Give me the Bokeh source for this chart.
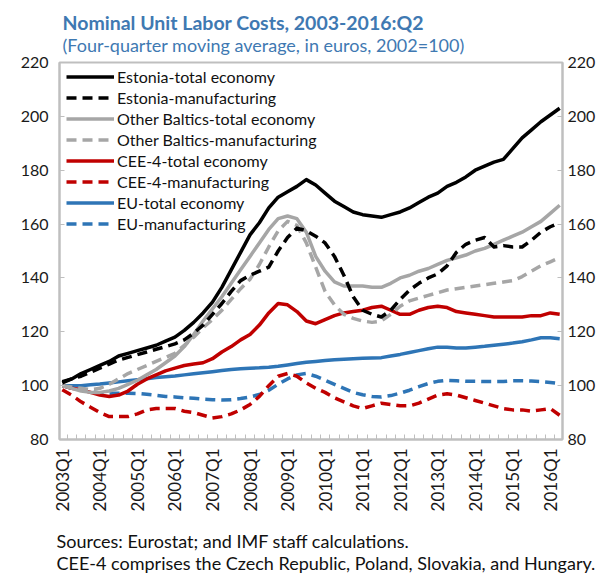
import math
from bokeh.plotting import figure
from bokeh.models import FixedTicker, LinearAxis, Range1d, Title, Legend, LegendItem
from bokeh.embed import file_html
from bokeh.resources import INLINE

# ---------------- data ----------------
years = ["2003", "2004", "2005", "2006", "2007", "2008", "2009",
         "2010", "2011", "2012", "2013", "2014", "2015", "2016"]
quarters = [y + "Q" + str(q) for y in years for q in (1, 2, 3, 4)][:54]   # 2003Q1 .. 2016Q2
tick_positions = [0, 4, 8, 12, 16, 20, 24, 28, 32, 36, 40, 44, 48, 52]
y_ticks = [80, 100, 120, 140, 160, 180, 200, 220]

estonia_total = [101, 102.5, 104.5, 106, 107.5, 109, 111, 112, 113, 114, 115, 116.5, 118, 120.5,
                 123.5, 127, 131, 136.5, 143, 149.5, 156, 160.5, 166, 170, 172, 174, 176.5, 174.5,
                 171.5, 168.5, 166.5, 164.5, 163.5, 163, 162.5, 163.5, 164.5, 166, 168, 170, 171.5,
                 174, 175.5, 177.5, 180, 181.5, 183, 184, 188, 192, 195, 198, 200.5, 203]
estonia_manuf = [101.5, 102.5, 103.5, 105, 106.5, 108, 109.5, 110.5, 111.5, 112.5, 113.5, 114.5,
                 115.5, 117, 119.5, 122.5, 126.5, 130.5, 135, 139, 141, 142.5, 144, 150, 155, 158.5,
                 157.5, 155.5, 153, 148, 141, 133, 128, 126.5, 125.5, 128, 132, 135.5, 138, 140,
                 141.5, 144.5, 149.5, 152.5, 154, 155, 151.5, 152, 151.5, 151.5, 154, 157, 159, 160.5]
baltics_total = [100, 99, 98, 97.5, 97.5, 98, 99, 100.5, 102, 104, 106, 108.5, 111, 114.5, 119,
                 124, 128.5, 133, 138, 143, 148, 153, 158, 162, 163, 162, 157, 148, 142.5, 138.5,
                 137, 137, 137, 136.5, 136.5, 138, 140, 141, 142.5, 143.5, 145, 146.5, 147.5, 148.5,
                 150, 151, 152.5, 154, 155.5, 157, 159, 161, 164, 167]
baltics_manuf = [100, 99.5, 99, 98.5, 99, 100.5, 102.5, 104.5, 106, 107.5, 109, 110.5, 112, 115,
                 118, 121.5, 124.5, 128, 132, 136, 139.5, 145, 151.5, 157.5, 161, 159.5, 153, 144,
                 135, 130, 126.5, 125, 124, 123.5, 124, 126.5, 129.5, 131.5, 132.5, 133.5, 134.5,
                 135.5, 136, 136.5, 137, 137.5, 138, 138.5, 139, 140.5, 142.5, 144.5, 146, 147.5]
cee4_total = [100, 99, 98.5, 97.5, 96.5, 96, 96.5, 98, 100.5, 102.5, 104, 105.5, 106.5, 107.5, 108,
              108.5, 110, 112.5, 114.5, 117, 119, 122.5, 127, 130.5, 130, 127.5, 124, 123, 124.5,
              126, 127, 127.5, 128, 129, 129.5, 128, 126.5, 126.5, 128, 129, 129.5, 129, 127.5, 127,
              126.5, 126, 125.5, 125.5, 125.5, 125.5, 126, 126, 127, 126.5]
cee4_manuf = [98.5, 96.5, 94, 92, 90, 88.5, 88.5, 88.5, 89.5, 91, 91.5, 91.5, 91.5, 90.5, 90, 89,
              88, 88.5, 89.5, 91, 93, 96, 100, 103.5, 104.5, 103.5, 101, 99, 97.5, 95.5, 94, 92.5,
              91.5, 92.5, 93.5, 93, 92.5, 92.5, 93.5, 95, 96.5, 97, 96.5, 95.5, 94.5, 93.5, 92.5,
              91.5, 91, 91, 90.5, 91, 91.5, 89]
eu_total = [100, 100, 100, 100.3, 100.6, 101, 101.4, 101.8, 102.2, 102.6, 103, 103.3, 103.6, 104,
            104.4, 104.8, 105.2, 105.6, 106, 106.3, 106.5, 106.6, 106.8, 107.2, 107.7, 108.2, 108.7,
            109, 109.3, 109.6, 109.8, 110, 110.2, 110.3, 110.4, 111, 111.6, 112.3, 113, 113.7,
            114.3, 114.3, 114, 114, 114.3, 114.6, 115, 115.4, 115.8, 116.3, 117, 117.8, 117.8, 117.4]
eu_manuf = [100, 99, 98.5, 97.8, 97.3, 97.2, 97.2, 97.2, 97.1, 96.8, 96.4, 96, 95.8, 95.5, 95.3,
            95, 94.8, 94.7, 94.8, 95.2, 95.8, 96.7, 98.3, 100.5, 102.5, 104, 104.5, 103.5, 102,
            100.5, 99, 97.5, 96.6, 96, 95.8, 96.3, 97.2, 98.3, 99.6, 100.8, 101.6, 102, 101.8,
            101.6, 101.6, 101.5, 101.5, 101.5, 101.8, 101.8, 101.7, 101.5, 101.2, 100.8]

series_names = ["Estonia-total economy", "Estonia-manufacturing",
                "Other Baltics-total economy", "Other Baltics-manufacturing",
                "CEE-4-total economy", "CEE-4-manufacturing",
                "EU-total economy", "EU-manufacturing"]

title_text = "Nominal Unit Labor Costs, 2003-2016:Q2"
subtitle_text = "(Four-quarter moving average, in euros, 2002=100)"
source_line1 = "Sources: Eurostat; and IMF staff calculations."
source_line2 = "CEE-4 comprises the Czech Republic, Poland, Slovakia, and Hungary."

# ---------------- styles ----------------
FONT = "Lato"
BLACK, GRAY, RED, BLUE = "#000000", "#a6a6a6", "#c00000", "#2e75b6"
AXIS_GRAY = "#bfbfbf"
TITLE_BLUE = "#3f79b2"
DASH = "10 6"

W, H = 598, 576
ML, MR, MT, MB = 59, 35, 62, 137
FRAME_H = H - MT - MB

x = list(range(len(quarters)))

p = figure(width=W, height=H, x_range=Range1d(-0.3, 53.3), y_range=Range1d(80, 220),
           output_backend="svg", toolbar_location=None, title=None,
           min_border_left=ML, min_border_right=MR, min_border_top=MT, min_border_bottom=MB)
p.xgrid.visible = False
p.ygrid.visible = False
p.outline_line_color = AXIS_GRAY
p.outline_line_width = 2
p.background_fill_color = "white"
p.border_fill_color = "white"

specs = [
    (estonia_total, BLACK, "solid"),
    (estonia_manuf, BLACK, DASH),
    (baltics_total, GRAY, "solid"),
    (baltics_manuf, GRAY, DASH),
    (cee4_total, RED, "solid"),
    (cee4_manuf, RED, DASH),
    (eu_total, BLUE, "solid"),
    (eu_manuf, BLUE, DASH),
]
renderers = []
for vals, col, dash in reversed(specs):      # black drawn last (on top)
    r = p.line(x, vals, line_color=col, line_width=3.5, line_dash=dash, line_join="round")
    renderers.append(r)
renderers = list(reversed(renderers))

# ---------------- axes ----------------
xa = p.xaxis[0]
xa.ticker = FixedTicker(ticks=tick_positions, minor_ticks=[i + 0.5 for i in range(len(quarters) - 1)])
xa.major_label_overrides = {i: quarters[i] for i in tick_positions}
xa.major_label_orientation = math.pi / 2
xa.major_tick_in = 0
xa.major_tick_out = 0
xa.minor_tick_in = 5
xa.minor_tick_out = 0
xa.minor_tick_line_color = AXIS_GRAY
xa.minor_tick_line_width = 1
xa.axis_line_color = AXIS_GRAY
xa.axis_line_width = 2
xa.major_label_standoff = 9
xa.major_label_text_font = FONT
xa.major_label_text_font_size = "17px"
xa.major_label_text_color = "#1a1a1a"

ya = p.yaxis[0]
ya.ticker = FixedTicker(ticks=y_ticks)
yr = LinearAxis(ticker=FixedTicker(ticks=y_ticks))
p.add_layout(yr, "right")
for ax in (ya, yr):
    ax.major_tick_in = 5
    ax.major_tick_out = 0
    ax.minor_tick_in = 0
    ax.minor_tick_out = 0
    ax.major_tick_line_color = AXIS_GRAY
    ax.major_tick_line_width = 1
    ax.axis_line_color = AXIS_GRAY
    ax.axis_line_width = 2
    ax.major_label_text_font = FONT
    ax.major_label_text_font_size = "16px"
    ax.major_label_text_color = "#1a1a1a"
ya.major_label_standoff = 11
yr.major_label_standoff = 5

# ---------------- legend ----------------
items = [LegendItem(label=n, renderers=[r]) for n, r in zip(series_names, renderers)]
LEG_ROW = 21
legend_h = LEG_ROW * len(items) + 4
legend = Legend(items=items, location=(7, FRAME_H - legend_h), border_line_color=None,
                background_fill_alpha=0, label_text_font=FONT, label_text_font_size="16px",
                label_text_color="#111111",
                glyph_width=48, glyph_height=LEG_ROW, label_height=LEG_ROW, spacing=0,
                padding=2, margin=0, label_standoff=3)
p.add_layout(legend)

# ---------------- titles & notes ----------------
p.add_layout(Title(text=subtitle_text, align="left", offset=3, standoff=14,
                   text_font=FONT, text_font_size="18px", text_font_style="normal",
                   text_color=TITLE_BLUE), "above")
p.add_layout(Title(text=title_text, align="left", offset=3, standoff=-19,
                   text_font=FONT, text_font_size="19.5px", text_font_style="bold",
                   text_color=TITLE_BLUE), "above")
# leading blank line keeps a gap between the tick labels and the notes
p.add_layout(Title(text="\n" + source_line1 + "\n" + source_line2, align="left", offset=-3,
                   standoff=-18, text_font=FONT, text_font_size="18px", text_font_style="normal",
                   text_line_height=1.03, text_color="#111111"), "below")

open("out.html", "w").write(file_html(p, INLINE))
